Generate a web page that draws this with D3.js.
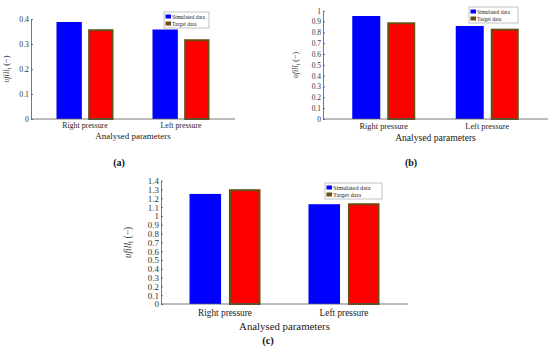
<!DOCTYPE html>
<html>
<head>
<meta charset="utf-8">
<script src="https://cdn.jsdelivr.net/npm/d3@7"></script>
<style>
  body { margin: 0; background: #fff; }
  svg { display: block; font-family: "Liberation Serif", "DejaVu Serif", serif; }
</style>
</head>
<body>
<script>
// data
var categories = ["Right pressure", "Left pressure"];
var seriesNames = ["Simulated data", "Target data"];

var simA = [0.388, 0.358];
var targetA = [0.359, 0.319];
var ticksA = [0, 0.1, 0.2, 0.3, 0.4];

var simB = [0.951, 0.859];
var targetB = [0.893, 0.834];
var ticksB = [0, 0.1, 0.2, 0.3, 0.4, 0.5, 0.6, 0.7, 0.8, 0.9, 1];

var simC = [1.25, 1.133];
var targetC = [1.303, 1.144];
var ticksC = [0, 0.1, 0.2, 0.3, 0.4, 0.5, 0.6, 0.7, 0.8, 0.9, 1, 1.1, 1.2, 1.3, 1.4];

var W = 550, H = 354;
var simColor = "#0000ff", targetFill = "#ff0000", targetEdge = "#6b4c12";

var svg = d3.select("body").append("svg")
    .attr("width", W)
    .attr("height", H);

// layout of the three panels
var panels = [
  { tag: "(a)", sim: simA, target: targetA, ticks: ticksA, ymax: 0.4,
    x0: 31, x1: 235, y0: 119, y1: 19, pad: 0.5625, group: 57,
    tickFs: 7.8, catFs: 7.8, titleFs: 9, tagFs: 10,
    catY: 128, titleY: 139, tagX: 119, tagY: 166, ylabX: 9,
    legend: { x: 164, y: 12, w: 45, h: 16, fs: 5.5 } },
  { tag: "(b)", sim: simB, target: targetB, ticks: ticksB, ymax: 1,
    x0: 323, x1: 548, y0: 119, y1: 10.7, pad: 0.587, group: 63,
    tickFs: 7.5, catFs: 8.4, titleFs: 9.6, tagFs: 10,
    catY: 129, titleY: 141, tagX: 411, tagY: 166, ylabX: 298,
    legend: { x: 469, y: 7, w: 49, h: 16, fs: 5.5 } },
  { tag: "(c)", sim: simC, target: targetC, ticks: ticksC, ymax: 1.4,
    x0: 161, x1: 408, y0: 304, y1: 180.7, pad: 0.538, group: 71,
    tickFs: 9, catFs: 9.3, titleFs: 10.8, tagFs: 10.5,
    catY: 316, titleY: 330, tagX: 268, tagY: 344, ylabX: 131,
    legend: { x: 325, y: 183, w: 57, h: 16, fs: 6.3 } }
];

panels.forEach(function(p) {
  var g = svg.append("g");

  var x = d3.scalePoint().domain(categories).range([p.x0, p.x1]).padding(p.pad);
  var inner = d3.scaleBand().domain(seriesNames).range([-p.group / 2, p.group / 2]).paddingInner(0.2);
  var y = d3.scaleLinear().domain([0, p.ymax]).range([p.y0, p.y1]);

  var rows = categories.map(function(c, i) {
    return { cat: c, values: [p.sim[i], p.target[i]] };
  });

  // bars
  var grp = g.selectAll(".grp").data(rows).enter().append("g")
      .attr("transform", function(d) { return "translate(" + x(d.cat) + ",0)"; });

  grp.append("rect")
      .attr("x", inner(seriesNames[0]))
      .attr("width", inner.bandwidth())
      .attr("y", function(d) { return y(d.values[0]); })
      .attr("height", function(d) { return y(0) - y(d.values[0]); })
      .attr("fill", simColor);

  grp.append("rect")
      .attr("x", inner(seriesNames[1]) + 1)
      .attr("width", inner.bandwidth() - 2)
      .attr("y", function(d) { return y(d.values[1]) + 1; })
      .attr("height", function(d) { return y(0) - y(d.values[1]) - 1; })
      .attr("fill", targetFill)
      .attr("stroke", targetEdge)
      .attr("stroke-width", 2);

  // axes
  var yAxis = g.append("g")
      .attr("transform", "translate(" + p.x0 + ",0)")
      .call(d3.axisLeft(y).tickValues(p.ticks).tickFormat(d3.format("~g"))
        .tickSizeInner(-2).tickSizeOuter(0).tickPadding(2));
  yAxis.selectAll("text").attr("font-size", p.tickFs).attr("fill", "#333")
      .style("font-family", "Liberation Serif, serif");
  yAxis.selectAll("line, path").attr("stroke", "#555").attr("stroke-width", 0.8);

  g.append("line")
      .attr("x1", p.x0).attr("x2", p.x1)
      .attr("y1", p.y0).attr("y2", p.y0)
      .attr("stroke", "#555").attr("stroke-width", 0.8);

  // category labels
  g.selectAll(".cat").data(categories).enter().append("text")
      .attr("x", function(d) { return x(d); })
      .attr("y", p.catY)
      .attr("text-anchor", "middle")
      .attr("font-size", p.catFs)
      .attr("fill", "#222")
      .text(function(d) { return d; });

  g.append("text")
      .attr("x", (p.x0 + p.x1) / 2)
      .attr("y", p.titleY)
      .attr("text-anchor", "middle")
      .attr("font-size", p.titleFs)
      .attr("fill", "#222")
      .text("Analysed parameters");

  // y label
  var yl = g.append("text")
      .attr("transform", "translate(" + p.ylabX + "," + ((p.y0 + p.y1) / 2) + ") rotate(-90)")
      .attr("text-anchor", "middle")
      .attr("font-size", p.tickFs + 0.5)
      .attr("fill", "#333");
  yl.append("tspan").attr("font-style", "italic").text("\u03c5fill");
  yl.append("tspan").attr("font-size", p.tickFs - 1.5).attr("dy", 2).text("t");
  yl.append("tspan").attr("dy", -2).text(" (\u2212)");

  // panel tag
  g.append("text")
      .attr("x", p.tagX)
      .attr("y", p.tagY)
      .attr("text-anchor", "middle")
      .attr("font-size", p.tagFs)
      .attr("font-weight", "bold")
      .attr("fill", "#111")
      .text(p.tag);

  // legend
  var L = p.legend;
  var lg = g.append("g").attr("transform", "translate(" + L.x + "," + L.y + ")");
  lg.append("rect")
      .attr("width", L.w).attr("height", L.h)
      .attr("fill", "#fff").attr("stroke", "#999").attr("stroke-width", 0.6);
  var items = lg.selectAll(".item").data(seriesNames).enter().append("g")
      .attr("transform", function(d, i) { return "translate(1.5," + (2 + i * 7) + ")"; });
  items.append("rect")
      .attr("width", 5.5).attr("height", 4)
      .attr("y", 0.5)
      .attr("fill", function(d, i) { return i === 0 ? simColor : targetEdge; });
  items.append("text")
      .attr("x", 6.5).attr("y", 4.6)
      .attr("font-size", L.fs)
      .attr("fill", "#222")
      .text(function(d) { return d; });
});
</script>
</body>
</html>
